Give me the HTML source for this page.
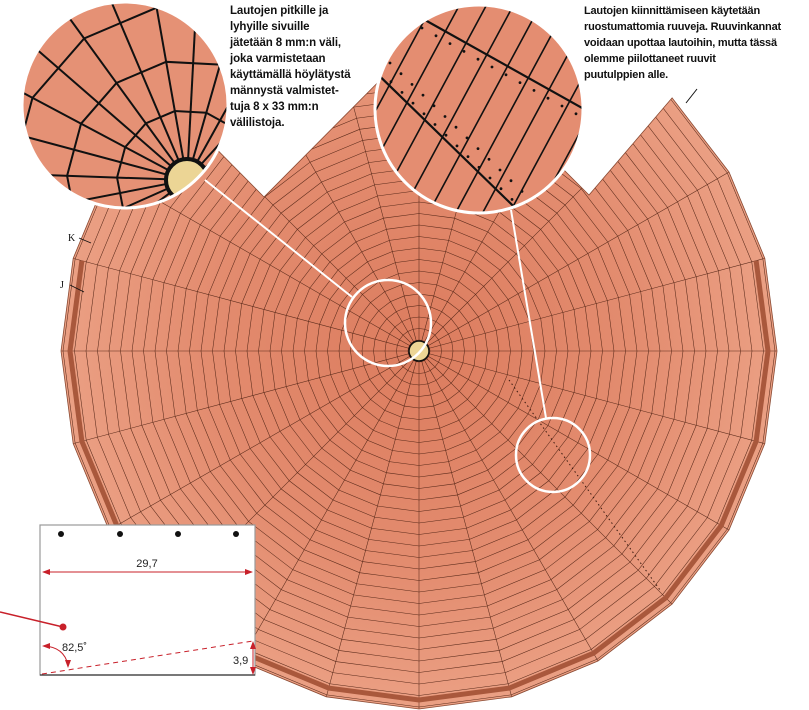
<!DOCTYPE html>
<html><head><meta charset="utf-8">
<style>
html,body{margin:0;padding:0;background:#fff;}
body{width:809px;height:710px;position:relative;overflow:hidden;font-family:"Liberation Sans",sans-serif;}
svg{position:absolute;left:0;top:0;}
.t{position:absolute;font-weight:bold;font-size:11.5px;line-height:16px;color:#111;white-space:nowrap;letter-spacing:-0.1px;}
</style></head><body>
<svg id="s" width="809" height="710" viewBox="0 0 809 710" xmlns="http://www.w3.org/2000/svg">
<defs>
<radialGradient id="g" cx="419" cy="351" r="360" gradientUnits="userSpaceOnUse">
<stop offset="0" stop-color="#dc7c5e"/><stop offset="0.6" stop-color="#e38c6f"/><stop offset="1" stop-color="#eba084"/>
</radialGradient>
<clipPath id="cp"><path id="cpp"/></clipPath>
<clipPath id="c1"><circle cx="125" cy="105" r="103"/></clipPath>
<clipPath id="c2"><circle cx="479" cy="109" r="104"/></clipPath>
</defs>
<path id="shape" fill="url(#g)"/>
<g id="grid" clip-path="url(#cp)" stroke="#5a2a1a" stroke-width="0.55" fill="none"></g>
<polyline id="band" fill="none" stroke="#a9583c" stroke-width="5" clip-path="url(#cp)"/>
<path id="outline" fill="none" stroke="#8a4a33" stroke-width="0.8"/>
<line x1="686" y1="103" x2="697" y2="89" stroke="#111" stroke-width="1"/>
<line x1="509" y1="380" x2="660" y2="590" stroke="#3a1a10" stroke-width="1" stroke-dasharray="1.5 3"/>
<circle cx="419" cy="351" r="10" fill="#ecd595" stroke="#111" stroke-width="1.5"/>
<circle cx="388" cy="323" r="43" fill="none" stroke="#fff" stroke-width="2.5"/>
<circle cx="553" cy="455" r="37" fill="none" stroke="#fff" stroke-width="2.5"/>
<line x1="205" y1="180" x2="352" y2="297" stroke="#fff" stroke-width="2"/>
<line x1="511" y1="210" x2="546" y2="418" stroke="#fff" stroke-width="2"/>
<g clip-path="url(#c1)"><rect x="0" y="0" width="240" height="220" fill="#e59175"/><g id="m1" stroke="#111" stroke-width="2" fill="none"></g>
<circle cx="187" cy="180" r="21" fill="#ecd595" stroke="#111" stroke-width="4"/></g>
<circle cx="125" cy="105" r="103" fill="none" stroke="#fff" stroke-width="3"/>
<g clip-path="url(#c2)"><rect x="370" y="0" width="220" height="220" fill="#e48d71"/><g id="m2" stroke="#111" fill="none"></g></g>
<circle cx="479" cy="109" r="104" fill="none" stroke="#fff" stroke-width="3"/>
<text x="68" y="241" font-family="Liberation Serif,serif" font-size="10" fill="#111">K</text>
<line x1="79" y1="238" x2="91" y2="243" stroke="#111" stroke-width="0.8"/>
<text x="60" y="288" font-family="Liberation Serif,serif" font-size="10" fill="#111">J</text>
<line x1="70" y1="285" x2="84" y2="292" stroke="#111" stroke-width="0.8"/>
<rect x="40" y="525" width="215" height="150" fill="#fff" stroke="#999" stroke-width="1.2"/>
<line x1="40" y1="675" x2="255" y2="675" stroke="#333" stroke-width="1.2"/>
<g fill="#111"><circle cx="61" cy="534" r="3"/><circle cx="120" cy="534" r="3"/><circle cx="178" cy="534" r="3"/><circle cx="236" cy="534" r="3"/></g>
<g stroke="#c8202a" fill="#c8202a" stroke-width="1">
<line x1="43" y1="572" x2="252" y2="572"/>
<path d="M42 572 l8 -3 l0 6z M253 572 l-8 -3 l0 6z" stroke="none"/>
<line x1="0" y1="612" x2="63" y2="627" stroke-width="1.5"/>
<circle cx="63" cy="627" r="3.5" stroke="none"/>
<line x1="42" y1="674" x2="253" y2="641" stroke-dasharray="5 4"/>
<line x1="253" y1="643" x2="253" y2="673"/>
<path d="M253 641 l-3 8 l6 0z M253 675 l-3 -8 l6 0z" stroke="none"/>
<path d="M44 646 Q64 647 68 665" fill="none"/>
<path d="M42 646 l8 -3 l0 6z M68 668 l-3 -8 l6 0z" stroke="none"/>
</g>
<text x="147" y="567" font-size="11" text-anchor="middle" fill="#222">29,7</text>
<text x="62" y="651" font-size="11" fill="#222">82,5˚</text>
<text x="233" y="664" font-size="11" fill="#222">3,9</text>
</svg>
<div class="t" style="left:230px;top:3px;">Lautojen pitkille ja<br>lyhyille sivuille<br>jätetään 8 mm:n väli,<br>joka varmistetaan<br>käyttämällä höylätystä<br>männystä valmistet-<br>tuja 8 x 33 mm:n<br>välilistoja.</div>
<div class="t" style="left:584px;top:3px;font-size:11px;letter-spacing:-0.2px;">Lautojen kiinnittämiseen käytetään<br>ruostumattomia ruuveja. Ruuvinkannat<br>voidaan upottaa lautoihin, mutta tässä<br>olemme piilottaneet ruuvit<br>puutulppien alle.</div>
<script>
(function(){
var NS="http://www.w3.org/2000/svg",cx=419,cy=351,R=358;
function P(a,r){var t=a*Math.PI/180;return [cx+r*Math.cos(t),cy-r*Math.sin(t)];}
function el(n,at,p){var e=document.createElementNS(NS,n);for(var k in at)e.setAttribute(k,at[k]);p.appendChild(e);return e;}
var pts=[[264,197]];
for(var a=135;a<=405;a+=15)pts.push(P(a,R));
pts.push([589,195]);pts.push([427,33]);
var d="M"+pts.map(function(p){return p[0].toFixed(1)+" "+p[1].toFixed(1)}).join(" L")+"Z";
document.getElementById("shape").setAttribute("d",d);
document.getElementById("cpp").setAttribute("d",d);
document.getElementById("outline").setAttribute("d",d);
var g=document.getElementById("grid");
for(var r=11;r<R;r+=11.5){var q=[];for(var a=0;a<360;a+=15)q.push(P(a,r).join(","));el("polygon",{points:q.join(" ")},g);}
for(var a=0;a<360;a+=15){var e=P(a,R);el("line",{x1:cx,y1:cy,x2:e[0],y2:e[1]},g);}
var b=[];for(var a=165;a<=375;a+=15)b.push(P(a,R-9).join(","));
document.getElementById("band").setAttribute("points",b.join(" "));
var m1=document.getElementById("m1"),hx=187,hy=180;
for(var a=0;a<360;a+=13){var t=a*Math.PI/180;el("line",{x1:hx+20*Math.cos(t),y1:hy+20*Math.sin(t),x2:hx+320*Math.cos(t),y2:hy+320*Math.sin(t)},m1);}
[70,120,175].forEach(function(rr){var q=[];for(var a=0;a<360;a+=26){var t=a*Math.PI/180;q.push((hx+rr*Math.cos(t))+","+(hy+rr*Math.sin(t)));}el("polygon",{points:q.join(" ")},m1);});
var m2=document.getElementById("m2");
el("line",{x1:360,y1:57,x2:540,y2:232,"stroke-width":2.2},m2);
el("line",{x1:400,y1:6,x2:600,y2:118,"stroke-width":2.2},m2);
for(var i=-6;i<10;i++){var x0=360+i*27;el("line",{x1:x0,y1:240,x2:x0+140,y2:-20,"stroke-width":1.6},m2);}
for(var k=0;k<14;k++){var x=385+k*11,y=67+k*10.7;el("circle",{cx:x-5,cy:y+4,r:1.4,fill:"#111",stroke:"none"},m2);el("circle",{cx:x+5,cy:y-4,r:1.4,fill:"#111",stroke:"none"},m2);}
for(var k=0;k<12;k++){var x=425+k*14,y=22+k*7.8;el("circle",{cx:x-3,cy:y+6,r:1.4,fill:"#111",stroke:"none"},m2);}
})();
</script>
</body></html>
